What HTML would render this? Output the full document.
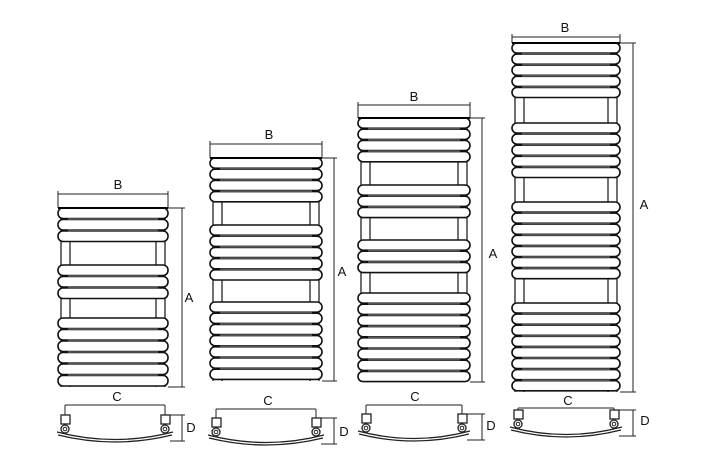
<!DOCTYPE html>
<html><head><meta charset="utf-8"><style>
body{margin:0;background:#fff;width:704px;height:463px;overflow:hidden}
svg{display:block}
text{font-family:"Liberation Sans",sans-serif;font-size:13px;fill:#111}
</style></head><body>
<svg id="s" width="704" height="463" viewBox="0 0 704 463">
<g id="g" fill="none" stroke="#222" stroke-width="1"></g>
<text x="118" y="189" text-anchor="middle">B</text>
<text x="189" y="302" text-anchor="middle">A</text>
<text x="117" y="401" text-anchor="middle">C</text>
<text x="191" y="432" text-anchor="middle">D</text>
<text x="269" y="139" text-anchor="middle">B</text>
<text x="342" y="276" text-anchor="middle">A</text>
<text x="268" y="405" text-anchor="middle">C</text>
<text x="344" y="436" text-anchor="middle">D</text>
<text x="414" y="101" text-anchor="middle">B</text>
<text x="493" y="258" text-anchor="middle">A</text>
<text x="415" y="401" text-anchor="middle">C</text>
<text x="491" y="430" text-anchor="middle">D</text>
<text x="565" y="32" text-anchor="middle">B</text>
<text x="644" y="209" text-anchor="middle">A</text>
<text x="568" y="405" text-anchor="middle">C</text>
<text x="645" y="425" text-anchor="middle">D</text>
</svg>
<script>
var g=document.getElementById('g'),h='';
function L(a,b,c,d,w,col){h+='<line x1="'+a+'" y1="'+b+'" x2="'+c+'" y2="'+d+'"'+(w?' stroke-width="'+w+'"':'')+(col?' stroke="'+col+'"':'')+'/>';}
function rad(x,w,top,bot,groups,pitch,bY,aX,cY,cx1,cx2,bt){
 var r1=x+12,r2=x+w-12;
 L(x+3,top,x+3,bot,1.3,'#222');L(x+w-3,top,x+w-3,bot,1.3,'#222');
 L(r1,top,r1,bot,1.5,'#444');L(r2,top,r2,bot,1.5,'#444');
 groups.forEach(function(gr){for(var i=0;i<gr[1];i++){var y=gr[0]+i*pitch;
  h+='<rect x="'+x+'" y="'+y+'" width="'+w+'" height="'+(pitch-1)+'" rx="5" fill="#fff" stroke="#111" stroke-width="1.6"/>';
  if(i>0)L(x+10,y-0.5,x+w-10,y-0.5,1.8,'#555');}});
 L(x,top,x+w,top,2,'#000');
 L(x,bY,x+w,bY);L(x,bY-3,x,top);L(x+w,bY-3,x+w,top);
 L(aX,top,aX,bot);L(x+w,top,aX+3,top);L(x+w,bot,aX+3,bot);
 var c1=cx1,c2=cx2,t=bt;
 L(c1,cY,c2,cY);L(c1,cY,c1,t);L(c2,cY,c2,t);
 [c1,c2].forEach(function(c){
  h+='<rect x="'+(c-4)+'" y="'+t+'" width="9" height="9" fill="#fff" stroke-width="1.3"/>';
  h+='<circle cx="'+c+'" cy="'+(t+14)+'" r="4" stroke-width="1.3"/><circle cx="'+c+'" cy="'+(t+14)+'" r="1.8"/>';});
 h+='<path stroke-width="1.3" d="M'+(c1-8)+' '+(t+17)+' Q'+((c1+c2)/2)+' '+(t+32)+' '+(c2+8)+' '+(t+17)+'"/>';
 h+='<path stroke-width="1.3" d="M'+(c1-7)+' '+(t+20)+' Q'+((c1+c2)/2)+' '+(t+34)+' '+(c2+7)+' '+(t+20)+'"/>';
 L(c2+5,t,aX+3,t);L(c2+5,t+26,aX+3,t+26);L(aX,t,aX,t+26);
}
rad(58,110,208,387,[[208,3],[265,3],[318,6]],11.5,194,182,405,65,165,415);
rad(210,112,158,381,[[158,4],[225,5],[302,7]],11.2,144,334,409,216,316,418);
rad(358,112,118,382,[[118,4],[185,3],[240,3],[293,8]],11.2,105,482,405,366,462,414);
rad(512,108,43,392,[[43,5],[123,5],[202,7],[303,8]],11.1,37,633,408,518,614,410);
g.innerHTML=h;
</script>
</body></html>
